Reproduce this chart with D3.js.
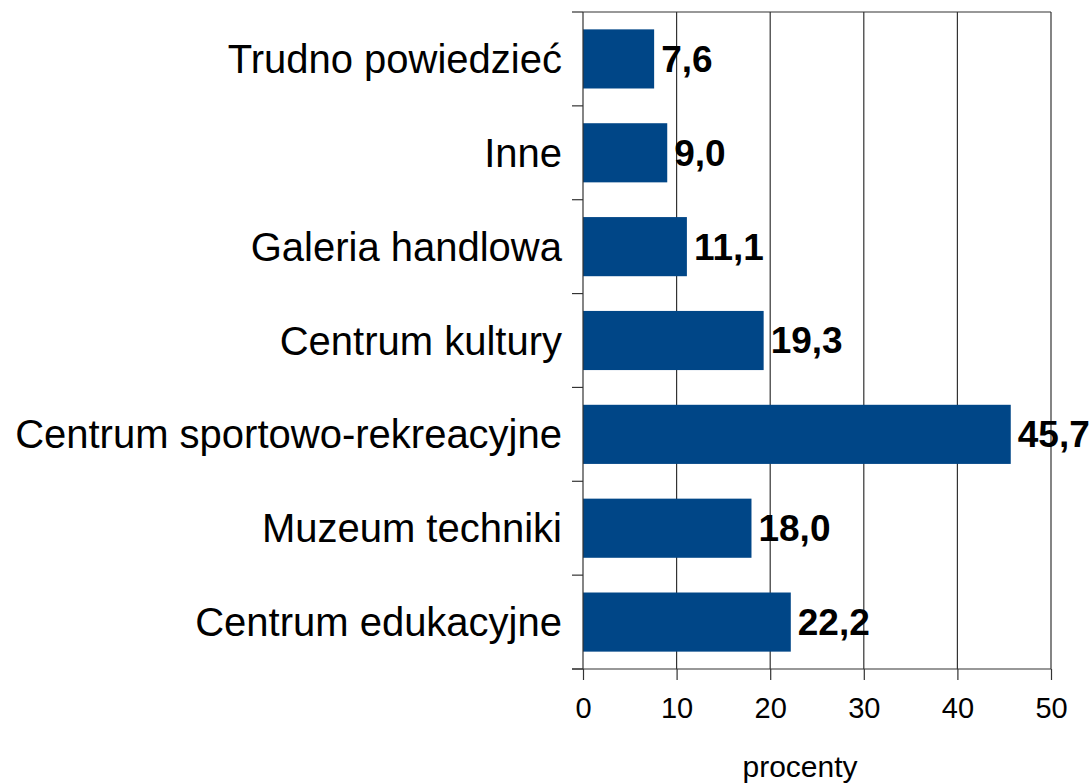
<!DOCTYPE html>
<html>
<head>
<meta charset="utf-8">
<script src="https://cdn.jsdelivr.net/npm/d3@7"></script>
<style>
  body { margin: 0; background: #fff; }
  svg { display: block; font-family: "Liberation Sans", Arial, sans-serif; }
</style>
</head>
<body>
<div id="chart"></div>
<script>
// ── Data ──────────────────────────────────────────────────────────────────────
const categories = [
  'Trudno powiedzieć',
  'Inne',
  'Galeria handlowa',
  'Centrum kultury',
  'Centrum sportowo-rekreacyjne',
  'Muzeum techniki',
  'Centrum edukacyjne'
];
const values = [7.6, 9.0, 11.1, 19.3, 45.7, 18.0, 22.2];
const xTicks = [0, 10, 20, 30, 40, 50];
const axisTitle = 'procenty';

// ── Layout ────────────────────────────────────────────────────────────────────
const W = 1092, H = 784;
const plot = { left: 583, right: 1051, top: 12, bottom: 669 };

const svg = d3.select('#chart')
  .append('svg')
  .attr('width', W)
  .attr('height', H);

const x = d3.scaleLinear().domain([0, 50]).range([plot.left, plot.right]);
const y = d3.scaleBand().domain(categories).range([plot.top, plot.bottom]).paddingInner(0.37).paddingOuter(0.185);
const yEdges = d3.scaleBand().domain(categories).range([plot.top, plot.bottom]);

const fmt = v => v.toFixed(1).replace('.', ',');

// Gridlines
svg.append('g')
  .selectAll('line')
  .data(xTicks.slice(1))
  .join('line')
  .attr('x1', d => x(d)).attr('x2', d => x(d))
  .attr('y1', plot.top).attr('y2', plot.bottom)
  .attr('stroke', '#333')
  .attr('stroke-width', 1.2);

// Top border
svg.append('line')
  .attr('x1', plot.left).attr('x2', plot.right)
  .attr('y1', plot.top).attr('y2', plot.top)
  .attr('stroke', '#333').attr('stroke-width', 1.2);

// Bars
svg.append('g')
  .selectAll('rect')
  .data(values)
  .join('rect')
  .attr('x', x(0))
  .attr('y', (d, i) => y(categories[i]))
  .attr('width', d => x(d) - x(0))
  .attr('height', y.bandwidth())
  .attr('fill', '#004687');

// Value labels
svg.append('g')
  .selectAll('text')
  .data(values)
  .join('text')
  .attr('x', d => x(d) + 7)
  .attr('y', (d, i) => y(categories[i]) + y.bandwidth() / 2)
  .attr('dy', '0.35em')
  .attr('font-size', 37)
  .attr('font-weight', 'bold')
  .attr('fill', '#000')
  .text(d => fmt(d));

// Y axis (left) with ticks at band edges
const yAxisG = svg.append('g');
yAxisG.append('line')
  .attr('x1', plot.left).attr('x2', plot.left)
  .attr('y1', plot.top).attr('y2', plot.bottom)
  .attr('stroke', '#333').attr('stroke-width', 1.2);
const edges = categories.map(c => yEdges(c)).concat([plot.bottom]);
yAxisG.selectAll('line.tick')
  .data(edges)
  .join('line')
  .attr('class', 'tick')
  .attr('x1', plot.left - 11).attr('x2', plot.left)
  .attr('y1', d => d).attr('y2', d => d)
  .attr('stroke', '#333').attr('stroke-width', 1.2);
yAxisG.selectAll('text')
  .data(categories)
  .join('text')
  .attr('x', plot.left - 21)
  .attr('y', d => y(d) + y.bandwidth() / 2)
  .attr('dy', '0.35em')
  .attr('text-anchor', 'end')
  .attr('font-size', 40)
  .attr('fill', '#000')
  .text(d => d);

// X axis
const xAxisG = svg.append('g')
  .attr('transform', `translate(0,${plot.bottom})`)
  .call(d3.axisBottom(x).tickValues(xTicks).tickSize(11).tickPadding(17).tickSizeOuter(0));
xAxisG.select('.domain').attr('stroke', '#333').attr('stroke-width', 1.2)
  .attr('d', `M${plot.left - 11},0H${plot.right}`);
xAxisG.selectAll('.tick line').attr('stroke', '#333').attr('stroke-width', 1.2);
xAxisG.selectAll('.tick text')
  .attr('font-size', 29)
  .attr('font-family', '"Liberation Sans", Arial, sans-serif')
  .attr('fill', '#000');

// Axis title
svg.append('text')
  .attr('x', 800)
  .attr('y', 777)
  .attr('text-anchor', 'middle')
  .attr('font-size', 30)
  .attr('fill', '#000')
  .text(axisTitle);
</script>
</body>
</html>
